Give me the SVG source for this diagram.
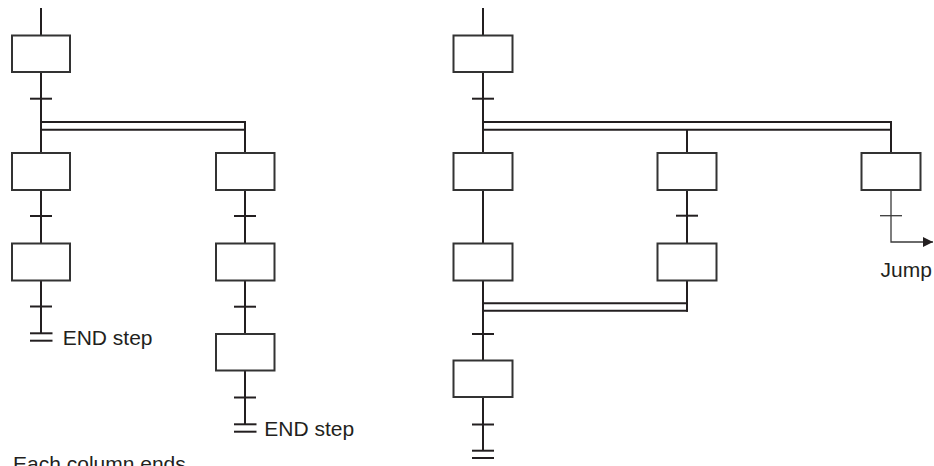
<svg xmlns="http://www.w3.org/2000/svg" width="934" height="466" viewBox="0 0 934 466">
<style>
.ln{stroke:#231f20;stroke-width:2;fill:none}
.thin{stroke:#3a3a3a;stroke-width:1.3;fill:none}
.box{fill:#fff;stroke:#333;stroke-width:2}
.t{font-family:"Liberation Sans",Arial,sans-serif;font-size:21px;fill:#231f20}
</style>
<defs>
<marker id="arr" markerWidth="10" markerHeight="10" refX="10" refY="5" orient="auto" markerUnits="userSpaceOnUse">
<path d="M0,0 L10,5 L0,10 Z" fill="#231f20"/>
</marker>
</defs>
<g id="connectors">
<!-- left diagram -->
<line class="ln" x1="41" y1="8" x2="41" y2="333.3"/>
<line class="ln" x1="41" y1="122" x2="246" y2="122"/>
<line class="ln" x1="41" y1="129.7" x2="245" y2="129.7"/>
<line class="ln" x1="245" y1="121" x2="245" y2="424.3"/>
<!-- right diagram -->
<line class="ln" x1="483" y1="8" x2="483" y2="450.7"/>
<line class="ln" x1="483" y1="122" x2="892" y2="122"/>
<line class="ln" x1="483" y1="129.7" x2="891" y2="129.7"/>
<line class="ln" x1="687" y1="129.7" x2="687" y2="311.7"/>
<line class="ln" x1="483" y1="303.3" x2="687" y2="303.3"/>
<line class="ln" x1="483" y1="310.7" x2="688" y2="310.7"/>
<line class="ln" x1="891" y1="121" x2="891" y2="190"/>
<polyline class="thin" points="891,190 891,242 933,242" marker-end="url(#arr)"/>
</g>
<g id="transitions">
<line class="ln" x1="30" y1="98.7" x2="52" y2="98.7"/>
<line class="ln" x1="30" y1="216" x2="52" y2="216"/>
<line class="ln" x1="30" y1="306.5" x2="52" y2="306.5"/>
<line class="ln" x1="234" y1="216" x2="256" y2="216"/>
<line class="ln" x1="234" y1="306.7" x2="256" y2="306.7"/>
<line class="ln" x1="234" y1="397.5" x2="256" y2="397.5"/>
<line class="ln" x1="472" y1="98.7" x2="494" y2="98.7"/>
<line class="ln" x1="472" y1="334" x2="494" y2="334"/>
<line class="ln" x1="472" y1="424.5" x2="494" y2="424.5"/>
<line class="ln" x1="676" y1="215.7" x2="698" y2="215.7"/>
<line class="thin" x1="880" y1="215.7" x2="902" y2="215.7"/>
</g>
<g id="end-left">
<line class="ln" x1="30" y1="333.3" x2="52.5" y2="333.3"/>
<line class="ln" x1="30" y1="340.7" x2="52.5" y2="340.7"/>
<text class="t" x="62.7" y="345">END step</text>
</g>
<g id="end-mid">
<line class="ln" x1="234" y1="424.3" x2="256.5" y2="424.3"/>
<line class="ln" x1="234" y1="431.7" x2="256.5" y2="431.7"/>
<text class="t" x="264.3" y="436">END step</text>
</g>
<g id="end-right">
<line class="ln" x1="472" y1="450.7" x2="494" y2="450.7"/>
<line class="ln" x1="472" y1="458" x2="494" y2="458"/>
</g>
<g id="steps-left">
<rect id="s1" class="box" x="12" y="35.5" width="58" height="36.5"/>
<rect id="s2" class="box" x="12" y="153" width="58" height="37"/>
<rect id="s3" class="box" x="12" y="243.5" width="58" height="37"/>
<rect id="s4" class="box" x="216" y="153" width="58.5" height="37"/>
<rect id="s5" class="box" x="216" y="243.5" width="58.5" height="37"/>
<rect id="s6" class="box" x="216" y="334" width="58.5" height="36.5"/>
</g>
<g id="steps-right">
<rect id="s7" class="box" x="453.5" y="35.5" width="59" height="36.5"/>
<rect id="s8" class="box" x="453.5" y="153" width="59" height="37"/>
<rect id="s9" class="box" x="453.5" y="243.5" width="59" height="37"/>
<rect id="s10" class="box" x="453.5" y="360.5" width="59" height="36.5"/>
<rect id="s11" class="box" x="657.5" y="153" width="59" height="37"/>
<rect id="s12" class="box" x="657.5" y="243.5" width="59" height="37"/>
<rect id="s13" class="box" x="861.5" y="153" width="59" height="37"/>
</g>
<g id="labels">
<text class="t" x="880.5" y="277">Jump</text>
<text class="t" x="13" y="471">Each column ends</text>
</g>
</svg>
